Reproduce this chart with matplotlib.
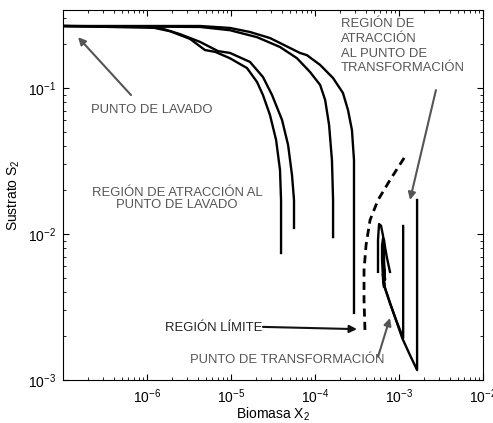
import numpy as np
import matplotlib.pyplot as plt

plt.rcParams['font.family'] = ['Liberation Sans', 'DejaVu Sans']
plt.rcParams['mathtext.fontset'] = 'custom'
plt.rcParams['mathtext.rm'] = 'Liberation Sans'
plt.rcParams['mathtext.it'] = 'Liberation Sans:italic'

# trayectorias que terminan en el punto de lavado (X2, S2)
xa = [1.0e-7, 1.09e-6, 1.88e-6, 3.25e-6, 4.9e-6, 6.46e-6, 9.7e-6, 1.55e-5, 2.04e-5,
      2.40e-5, 2.91e-5, 3.44e-5, 3.83e-5, 3.94e-5, 3.94e-5]
sa = [0.266, 0.262, 0.245, 0.217, 0.182, 0.177, 0.160, 0.137, 0.110,
      0.0895, 0.0653, 0.0441, 0.0274, 0.0171, 0.00741]

xb = [1.0e-7, 1.43e-6, 2.47e-6, 4.28e-6, 7.0e-6, 9.7e-6, 1.68e-5, 2.40e-5, 3.08e-5,
      4.05e-5, 4.78e-5, 5.32e-5, 5.62e-5, 5.62e-5]
sb = [0.266, 0.258, 0.234, 0.207, 0.179, 0.174, 0.151, 0.119, 0.0895,
      0.0604, 0.0407, 0.0253, 0.0171, 0.0110]

xc = [1.0e-7, 4.28e-6, 9.7e-6, 2.04e-5, 3.83e-5, 6.1e-5, 8.7e-5, 1.15e-4, 1.32e-4,
      1.47e-4, 1.59e-4, 1.64e-4, 1.64e-4]
sc = [0.266, 0.262, 0.249, 0.223, 0.191, 0.160, 0.129, 0.105, 0.0828,
      0.0558, 0.0321, 0.0171, 0.00953]

xd = [1.0e-7, 4.28e-6, 9.7e-6, 1.68e-5, 2.91e-5, 5.04e-5, 6.6e-5, 8.0e-5, 1.15e-4,
      1.64e-4, 2.15e-4, 2.47e-4, 2.75e-4, 2.91e-4, 2.91e-4]
sd = [0.266, 0.266, 0.258, 0.242, 0.220, 0.188, 0.174, 0.168, 0.144,
      0.117, 0.0925, 0.0706, 0.0516, 0.0321, 0.00288]

# frontera entre regiones (linea discontinua)
xlim_reg = [1.15e-3, 7.8e-4, 5.62e-4, 4.52e-4, 4.05e-4, 3.83e-4, 3.83e-4, 3.94e-4]
slim_reg = [0.0332, 0.0234, 0.0171, 0.01247, 0.00841, 0.00566, 0.00353, 0.0021]

# trayectorias hacia el punto de transformacion
xe = [1.64e-3, 1.64e-3, 1.35e-3, 1.09e-3, 9.2e-4, 7.8e-4, 6.8e-4, 6.46e-4]
se = [0.0171, 0.00117, 0.00148, 0.00194, 0.00258, 0.00337, 0.00427, 0.00523]

xf = [1.12e-3, 1.12e-3, 9.2e-4, 7.8e-4, 6.8e-4, 6.46e-4]
sf = [0.01135, 0.00194, 0.00258, 0.00337, 0.00427, 0.00523]

xg = [5.62e-4, 5.62e-4, 5.78e-4, 6.1e-4, 6.46e-4, 6.63e-4, 6.63e-4, 6.46e-4]
sg = [0.0055, 0.0091, 0.0117, 0.0114, 0.00968, 0.00776, 0.00614, 0.00523]

xh = [7.8e-4, 7.19e-4, 6.81e-4, 6.63e-4, 6.46e-4, 6.28e-4, 6.28e-4, 6.46e-4,
      6.63e-4, 6.46e-4, 6.81e-4, 6.46e-4, 6.63e-4, 6.55e-4]
sh = [0.0055, 0.00685, 0.00815, 0.0091, 0.0094, 0.0084, 0.00664, 0.00484,
      0.00433, 0.00776, 0.00484, 0.00717, 0.00523, 0.0063]

fig = plt.figure(figsize=(4.93, 4.23), dpi=100)
ax = fig.add_axes([0.1278, 0.1017, 0.852, 0.8758])

for x, s in [(xa, sa), (xb, sb), (xc, sc), (xd, sd), (xe, se), (xf, sf), (xg, sg), (xh, sh)]:
    ax.plot(x, s, color='black', lw=1.7, solid_joinstyle='round')
ax.plot(xlim_reg, slim_reg, color='black', lw=2.0, linestyle=(0, (2.9, 1.9)))

ax.set_xscale('log')
ax.set_yscale('log')
ax.set_xlim(1e-7, 1e-2)
ax.set_ylim(1e-3, 0.345)
ax.set_xticks([1e-6, 1e-5, 1e-4, 1e-3, 1e-2])
ax.set_yticks([1e-3, 1e-2, 1e-1])
ax.tick_params(which='both', direction='in', top=True, right=True, labelsize=10, pad=5)
ax.tick_params(which='major', length=4)
ax.tick_params(which='minor', length=2)
for sp in ax.spines.values():
    sp.set_linewidth(0.8)

ax.set_xlabel('Biomasa X$_2$', fontsize=10, labelpad=0)
ax.set_ylabel('Sustrato S$_2$', fontsize=10, labelpad=4)

gray = '#555555'
tk = dict(fontsize=9.4, color=gray)
ax.text(2.15e-7, 0.0706, 'PUNTO DE LAVADO', ha='left', va='center', **tk)
ax.text(2.28e-6, 0.0175, 'REGIÓN DE ATRACCIÓN AL\nPUNTO DE LAVADO', ha='center',
        va='center', linespacing=1.0, **tk)
ax.text(2.04e-4, 0.3, 'REGIÓN DE\nATRACCIÓN\nAL PUNTO DE\nTRANSFORMACIÓN', ha='left',
        va='top', linespacing=1.3, **tk)
ax.text(1.64e-6, 0.00227, 'REGIÓN LÍMITE', ha='left', va='center', fontsize=9.4,
        color='#222222')
ax.text(3.25e-6, 0.00137, 'PUNTO DE TRANSFORMACIÓN', ha='left', va='center', **tk)

arr = dict(arrowstyle='-|>', color=gray, lw=1.5, mutation_scale=11, shrinkA=0, shrinkB=0)
ax.annotate('', xy=(1.51e-7, 0.223), xytext=(6.45e-7, 0.0895), arrowprops=arr)
ax.annotate('', xy=(1.35e-3, 0.0171), xytext=(2.75e-3, 0.0968), arrowprops=arr)
ax.annotate('', xy=(7.8e-4, 0.00266), xytext=(5.62e-4, 0.00144), arrowprops=arr)
ax.annotate('', xy=(3.16e-4, 0.00223), xytext=(2.40e-5, 0.00231),
            arrowprops=dict(arr, color='#111111'))

fig.savefig('out.png', dpi=100)
